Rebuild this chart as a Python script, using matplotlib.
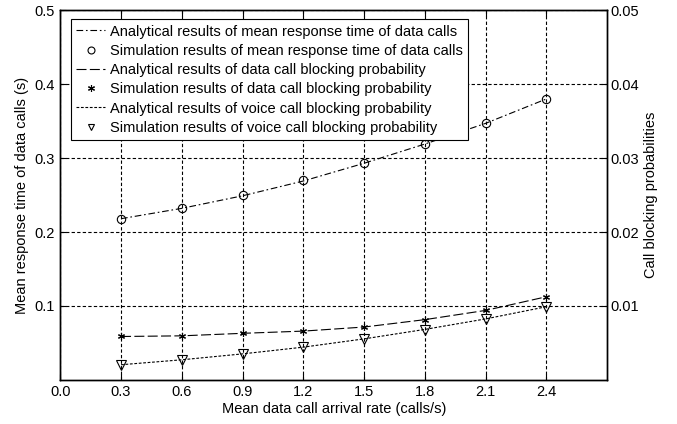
import matplotlib
matplotlib.use("Agg")
import matplotlib.pyplot as plt
from matplotlib.lines import Line2D

plt.rcParams['font.family'] = ['Liberation Sans', 'DejaVu Sans']

x = [0.3, 0.6, 0.9, 1.2, 1.5, 1.8, 2.1, 2.4]
resp_analytical = [0.218, 0.232, 0.249, 0.269, 0.293, 0.319, 0.347, 0.380]
resp_sim = [0.218, 0.232, 0.250, 0.270, 0.293, 0.319, 0.347, 0.380]
data_block_analytical = [0.00587, 0.00596, 0.00630, 0.00660, 0.00715, 0.00815, 0.00940, 0.01125]
data_block_sim = [0.00587, 0.00596, 0.00632, 0.00659, 0.00717, 0.00816, 0.00942, 0.01126]
voice_block_analytical = [0.00205, 0.00272, 0.00352, 0.00443, 0.00555, 0.00683, 0.00825, 0.00990]
voice_block_sim = [0.00202, 0.00269, 0.00350, 0.00440, 0.00552, 0.00680, 0.00820, 0.00987]

xticks = [0.0, 0.3, 0.6, 0.9, 1.2, 1.5, 1.8, 2.1, 2.4]
yticks_left = [0.1, 0.2, 0.3, 0.4, 0.5]
yticks_right = [0.01, 0.02, 0.03, 0.04, 0.05]

fig = plt.figure(figsize=(6.77, 4.24), dpi=100)
ax = fig.add_axes([0.089, 0.104, 0.808, 0.872])
ax2 = ax.twinx()

fs = 10.5
ast = (6, 2, 0)
ax.plot(x, resp_analytical, color='black', lw=0.8, dashes=(6, 2.5, 1.5, 2.5))
ax.plot(x, resp_sim, linestyle='none', marker='o', mfc='none', mec='black', ms=6, mew=0.8)
ax2.plot(x, data_block_analytical, color='black', lw=0.8, dashes=(9, 3))
ax2.plot(x, data_block_sim, linestyle='none', marker=ast, color='black', ms=5, mew=0.8)
ax2.plot(x, voice_block_analytical, color='black', lw=0.8, dashes=(2.5, 1.5))
ax2.plot(x, voice_block_sim, linestyle='none', marker='v', mfc='none', mec='black', ms=7, mew=0.8)

ax.set_xlim(0, 2.7)
ax.set_ylim(0, 0.5)
ax2.set_ylim(0, 0.05)
ax.set_xticks(xticks)
ax.set_xticklabels([f"{t:.1f}" for t in xticks], fontsize=fs)
ax.set_yticks(yticks_left)
ax.set_yticklabels([f"{t:.1f}" for t in yticks_left], fontsize=fs)
ax2.set_yticks(yticks_right)
ax2.set_yticklabels([f"{t:.2f}" for t in yticks_right], fontsize=fs)

ax.grid(True, color='black', linestyle=(0, (3, 2)), lw=0.8)
ax.tick_params(direction='in', length=4, width=0.8, top=True, pad=4)
ax2.tick_params(direction='in', length=4, width=0.8, pad=2)
for a in (ax, ax2):
    for s in a.spines.values():
        s.set_linewidth(1.0)

ax.set_xlabel('Mean data call arrival rate (calls/s)', fontsize=fs, labelpad=2)
ax.set_ylabel('Mean response time of data calls (s)', fontsize=fs, labelpad=4)
ax2.set_ylabel('Call blocking probabilities', fontsize=fs, labelpad=4)

handles = [
    Line2D([], [], color='black', lw=0.8, dashes=(6, 2.5, 1.5, 2.5)),
    Line2D([], [], linestyle='none', marker='o', mfc='none', mec='black', ms=5, mew=0.8),
    Line2D([], [], color='black', lw=0.8, dashes=(9, 3)),
    Line2D([], [], linestyle='none', marker=ast, color='black', ms=5, mew=0.8),
    Line2D([], [], color='black', lw=0.8, dashes=(2.5, 1.5)),
    Line2D([], [], linestyle='none', marker='v', mfc='none', mec='black', ms=5, mew=0.8),
]
labels = [
    'Analytical results of mean response time of data calls',
    'Simulation results of mean response time of data calls',
    'Analytical results of data call blocking probability',
    'Simulation results of data call blocking probability',
    'Analytical results of voice call blocking probability',
    'Simulation results of voice call blocking probability',
]
leg = ax2.legend(handles, labels, loc='upper left', bbox_to_anchor=(0.02, 0.975),
                 fontsize=fs, frameon=True, fancybox=False, framealpha=1,
                 edgecolor='black', handlelength=2.0, handletextpad=0.3,
                 labelspacing=0.36, borderpad=0.35, borderaxespad=0.0)
leg.get_frame().set_linewidth(0.8)

fig.savefig('out.png', dpi=100)
